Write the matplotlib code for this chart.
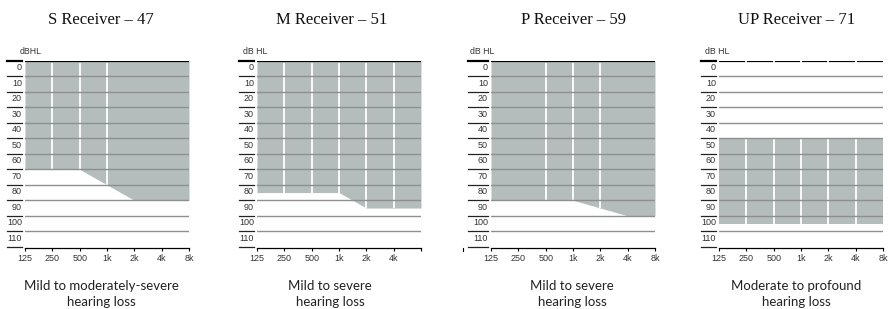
import matplotlib.pyplot as plt

W, H = 888, 309

freqs = [125, 250, 500, 1000, 2000, 4000, 8000]
freq_labels = ["125", "250", "500", "1k", "2k", "4k", "8k"]
db_ticks = [0, 10, 20, 30, 40, 50, 60, 70, 80, 90, 100, 110, 120]
db_labels = ["0", "10", "20", "30", "40", "50", "60", "70", "80", "90", "100", "110", ""]

titles = ["S Receiver – 47", "M Receiver – 51", "P Receiver – 59", "UP Receiver – 71"]
subtitles = ["Mild to moderately-severe\nhearing loss",
             "Mild to severe\nhearing loss",
             "Mild to severe\nhearing loss",
             "Moderate to profound\nhearing loss"]

# fitting range per receiver (dB HL at each frequency)
fill_top = [
    [0, 0, 0, 0, 0, 0, 0],
    [0, 0, 0, 0, 0, 0, 0],
    [0, 0, 0, 0, 0, 0, 0],
    [50, 50, 50, 50, 50, 50, 50],
]
fill_bottom = [
    [70, 70, 70, 80, 90, 90, 90],
    [85, 85, 85, 85, 95, 95, 95],
    [90, 90, 90, 90, 95, 100, 100],
    [105, 105, 105, 105, 105, 105, 105],
]
white_lines = [
    [250, 500, 1000],
    [250, 500, 1000, 2000, 4000],
    [500, 1000, 2000],
    [250, 500, 1000, 2000, 4000],
]
x_label_shown = [
    freq_labels,
    ["125", "250", "500", "1k", "2k", "4k", ""],
    freq_labels,
    freq_labels,
]

# layout in pixels
plot_left = [25, 257, 491, 719]
plot_w = 164
plot_top, plot_bot = 61, 247.5
tick_start = [7, 239, 468, 701]
dbhl_x = [20, 243, 470, 705]
dbhl_txt = ["dBHL", "dB HL", "dB HL", "dB HL"]
title_x = [101, 332, 573, 797]
sub_x = [101, 330, 572, 796]
vline_from = [1.5, 1.5, 1.5, 0]

FILL = "#b4bdbc"
GRID = "#8e9090"
TXT = "#333333"

fig = plt.figure(figsize=(W / 100, H / 100), dpi=100)

for i in range(4):
    ax = fig.add_axes([plot_left[i] / W, 1 - plot_bot / H,
                       plot_w / W, (plot_bot - plot_top) / H])
    ax.set_xscale("log", base=2)
    ax.set_xlim(125, 8000)
    ax.set_ylim(120.5, 0)
    for s in ["top", "right", "left"]:
        ax.spines[s].set_visible(False)
    ax.spines["bottom"].set_linewidth(0.9)
    ax.spines["bottom"].set_color("black")

    ax.fill_between(freqs, fill_top[i], fill_bottom[i], color=FILL, lw=0, zorder=1)

    # top line
    ax.axhline(0, color="black", lw=1.6, zorder=2)

    # white frequency lines inside the fitting range
    bottoms = [fill_bottom[i][freqs.index(f)] for f in white_lines[i]]
    ax.vlines(white_lines[i], vline_from[i], bottoms, color="white", lw=1.3, zorder=3)

    # horizontal grid
    for v in db_ticks[1:-1]:
        ax.axhline(v, color=GRID, lw=1.0, zorder=4)

    # left ticks and labels
    x0 = (tick_start[i] - plot_left[i]) / plot_w
    x1 = -3 / plot_w
    ytr = ax.get_yaxis_transform()
    for v, lab in zip(db_ticks, db_labels):
        ax.plot([x0, x1], [v, v], color="black" if v == 0 else "#222222",
                lw=1.6 if v == 0 else 0.9, transform=ytr, clip_on=False)
        if lab:
            ax.text(x1, v + 4.5, lab, transform=ytr, ha="right", va="center",
                    fontsize=6.5, color=TXT, family="Liberation Sans")
    ax.text((dbhl_x[i] - plot_left[i]) / plot_w, -6, dbhl_txt[i], transform=ytr,
            ha="left", va="center", fontsize=6.3, color=TXT, family="Liberation Sans")

    ax.set_yticks([])
    ax.set_xticks(freqs)
    ax.set_xticklabels(x_label_shown[i], fontsize=6.5, color=TXT, family="Liberation Sans")
    ax.xaxis.set_minor_locator(plt.NullLocator())
    ax.tick_params(axis="x", direction="out", length=2.5, width=0.8, pad=2.2, color="black")

    if i == 2:
        ax.plot([-28 / plot_w] * 2, [120.5, 122.5], color="black", lw=0.8,
                transform=ax.get_yaxis_transform(), clip_on=False)

    fig.text(title_x[i] / W, 1 - 20 / H, titles[i], ha="center", va="center",
             fontsize=12, family="Liberation Serif", color="#111111")
    fig.text(sub_x[i] / W, 1 - 294 / H, subtitles[i], ha="center", va="center",
             fontsize=9.5, family="Lato", color="#222222", linespacing=1.45)

fig.savefig("out.png", dpi=100)
